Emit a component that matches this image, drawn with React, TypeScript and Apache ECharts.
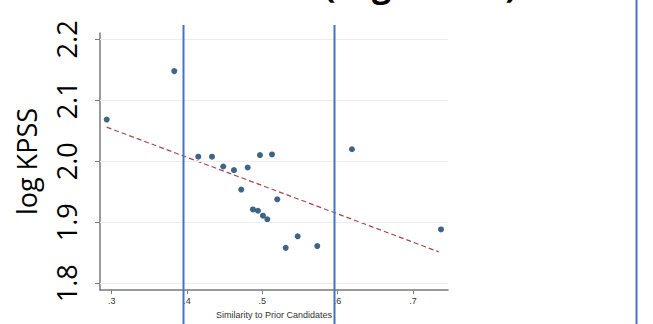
import React, { useEffect, useRef } from "react";
import * as echarts from "echarts";

const pointX = [0.2934, 0.3831, 0.415, 0.4332, 0.4482, 0.4624, 0.4806, 0.4721, 0.4969, 0.5129, 0.4876, 0.4943, 0.5009, 0.5067, 0.5199, 0.5311, 0.547, 0.573, 0.619, 0.7373];
const pointY = [2.0685, 2.148, 2.0076, 2.0076, 1.9915, 1.9855, 1.9898, 1.9537, 2.0102, 2.0113, 1.921, 1.9189, 1.9108, 1.9048, 1.9376, 1.858, 1.877, 1.861, 2.0198, 1.8882];
const fitX = [0.2934, 0.7343];
const fitY = [2.056, 1.8515];
const xTicks = [0.3, 0.4, 0.5, 0.6, 0.7];
const xTickLabels = [".3", ".4", ".5", ".6", ".7"];
const yTicks = [1.8, 1.9, 2.0, 2.1, 2.2];
const yTickLabels = ["1.8", "1.9", "2.0", "2.1", "2.2"];

export default function App() {
  const ref = useRef<HTMLDivElement>(null);
  useEffect(() => {
    if (!ref.current) return;
    const chart = echarts.init(ref.current, undefined, { renderer: "svg" });
    const blue = "#4472C4";
    chart.setOption({
      animation: false,
      backgroundColor: "#ffffff",
      grid: { left: 100, right: 205, top: 33, bottom: 30, containLabel: false },
      xAxis: {
        type: "value",
        min: 0.2845,
        max: 0.7466,
        name: "Similarity to Prior Candidates",
        nameLocation: "middle",
        nameGap: 17,
        nameTextStyle: { fontFamily: "Liberation Sans", fontSize: 9, color: "#333" },
        axisLine: { show: true, lineStyle: { color: "#7a7a7a", width: 1.5 } },
        axisTick: { show: true, length: 4, customValues: xTicks, lineStyle: { color: "#7a7a7a" } },
        axisLabel: {
          customValues: xTicks,
          margin: 6,
          fontFamily: "Liberation Sans",
          fontSize: 9,
          color: "#333",
          formatter: (v: number) => {
            const i = xTicks.findIndex((t) => Math.abs(t - v) < 1e-6);
            return i >= 0 ? xTickLabels[i] : "";
          },
        },
        splitLine: { show: false },
      },
      yAxis: {
        type: "value",
        min: 1.7887,
        max: 2.2105,
        name: "log KPSS",
        nameLocation: "middle",
        nameGap: 60,
        nameRotate: 90,
        nameTextStyle: { fontFamily: "Open Sans", fontSize: 27, color: "#000" },
        axisLine: { show: true, lineStyle: { color: "#7a7a7a", width: 1.5 } },
        axisTick: { show: true, length: 5, customValues: yTicks, lineStyle: { color: "#7a7a7a" } },
        axisLabel: {
          customValues: yTicks,
          rotate: 90,
          margin: 20,
          fontFamily: "Open Sans",
          fontSize: 27,
          color: "#000",
          formatter: (v: number) => {
            const i = yTicks.findIndex((t) => Math.abs(t - v) < 1e-6);
            return i >= 0 ? yTickLabels[i] : "";
          },
        },
        splitLine: { show: false },
      },
      series: [
        {
          type: "line",
          data: fitX.map((x, i) => [x, fitY[i]]),
          symbol: "none",
          lineStyle: { color: "#a4474f", width: 1.2, type: [5, 3] },
          markLine: {
            silent: true,
            symbol: "none",
            label: { show: false },
            lineStyle: { color: "#eaeef1", width: 1.2, type: "solid" },
            data: yTicks.map((t) => ({ yAxis: t })),
          },
          z: 2,
        },
        {
          type: "scatter",
          data: pointX.map((x, i) => [x, pointY[i]]),
          symbol: "circle",
          symbolSize: 6,
          itemStyle: { color: "#0f3d66" },
          z: 3,
        },
      ],
      graphic: [
        { type: "line", shape: { x1: 183.5, y1: 25, x2: 183.5, y2: 324 }, style: { stroke: blue, lineWidth: 2 }, z: 10 },
        { type: "line", shape: { x1: 334.5, y1: 25, x2: 334.5, y2: 324 }, style: { stroke: blue, lineWidth: 2 }, z: 10 },
        { type: "line", shape: { x1: 636.5, y1: 0, x2: 636.5, y2: 324 }, style: { stroke: blue, lineWidth: 2 }, z: 10 },
        {
          type: "text",
          x: 324,
          y: -33,
          style: {
            text: "(Highlands)",
            font: "bold 34px 'Open Sans'",
            fill: "#000",
            textAlign: "left",
          },
          z: 10,
        },
      ],
    });
    return () => chart.dispose();
  }, []);
  return <div ref={ref} style={{ width: 653, height: 324, position: "absolute", left: 0, top: 0 }} />;
}
